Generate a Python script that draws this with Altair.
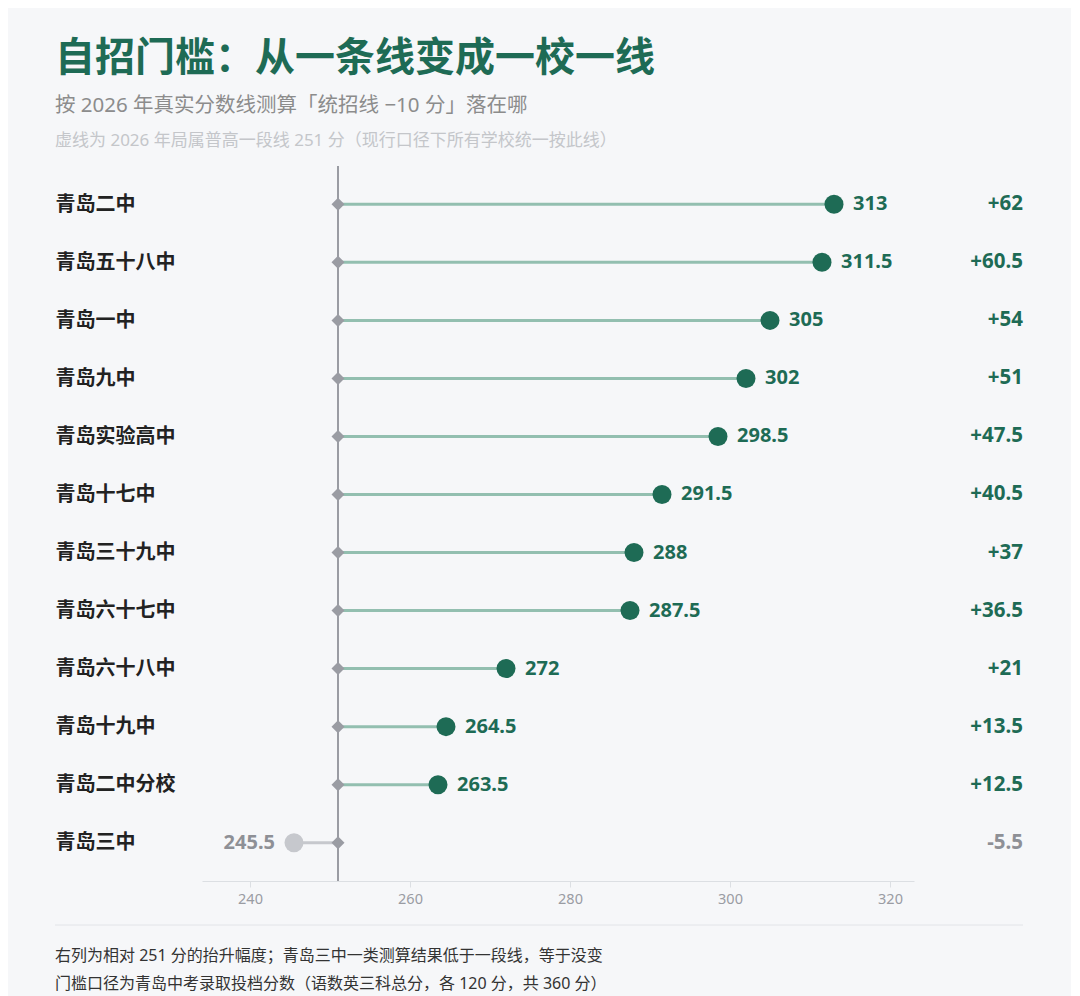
import altair as alt
import pandas as pd

schools = ["青岛二中", "青岛五十八中", "青岛一中", "青岛九中", "青岛实验高中", "青岛十七中",
           "青岛三十九中", "青岛六十七中", "青岛六十八中", "青岛十九中", "青岛二中分校", "青岛三中"]
scores = [313, 311.5, 305, 302, 298.5, 291.5, 288, 287.5, 272, 264.5, 263.5, 245.5]
deltas = ["+62", "+60.5", "+54", "+51", "+47.5", "+40.5", "+37", "+36.5", "+21", "+13.5", "+12.5", "-5.5"]
score_labels = ["313", "311.5", "305", "302", "298.5", "291.5", "288", "287.5", "272", "264.5", "263.5", "245.5"]
baseline = 251
x_ticks = [240, 260, 280, 300, 320]
footer_lines = ["右列为相对 251 分的抬升幅度；青岛三中一类测算结果低于一段线，等于没变",
                "门槛口径为青岛中考录取投档分数（语数英三科总分，各 120 分，共 360 分）"]

GREEN = "#1e6b55"
STEM = "#93bfb0"
GRAY = "#9a9ca3"
LIGHT = "#c6c8cd"
FONT = "'Noto Sans', 'Noto Sans CJK SC', sans-serif"

W, H = 712, 715

df = pd.DataFrame({
    "school": schools,
    "score": scores,
    "label": score_labels,
    "delta": deltas,
    "base": [baseline] * len(schools),
})

up = alt.datum.score > baseline

y = alt.Y("school:N", sort=schools, title=None,
          scale=alt.Scale(type="point", padding=0.66),
          axis=alt.Axis(ticks=False, domain=False, labelAlign="left", labelPadding=147,
                        labelFontSize=20, labelFontWeight="bold", labelColor="#222222",
                        labelFont=FONT))
xs = alt.Scale(domain=[234, 323], nice=False, zero=False)
x_axis = alt.Axis(values=x_ticks, grid=False, domainColor="#dcdfe3", tickColor="#dcdfe3",
                  tickSize=6, labelColor=GRAY, labelFontSize=14.5, labelPadding=5, labelFont=FONT)

base = alt.Chart(df)

# vertical line at the 2026 cut-off
line = alt.Chart(pd.DataFrame({"v": [baseline]})).mark_rule(color=GRAY, strokeWidth=2).encode(
    x=alt.X("v:Q", scale=xs, axis=x_axis, title=None)
)

stems = base.mark_rule(strokeWidth=3).encode(
    x=alt.X("base:Q", title=None),
    x2="score:Q",
    y=y,
    color=alt.condition(up, alt.value(STEM), alt.value(LIGHT)),
)

diamonds = base.mark_point(shape="diamond", filled=True, size=169, color=GRAY, opacity=1).encode(
    x=alt.X("base:Q", title=None),
    y=y,
)

dots = base.mark_circle(size=361, opacity=1).encode(
    x=alt.X("score:Q", title=None),
    y=y,
    color=alt.condition(up, alt.value(GREEN), alt.value(LIGHT)),
)

labels_up = base.transform_filter(up).mark_text(
    align="left", dx=19, fontSize=20, fontWeight="bold", font=FONT, color=GREEN
).encode(x=alt.X("score:Q", title=None), y=y, text="label:N")

labels_down = base.transform_filter(alt.datum.score <= baseline).mark_text(
    align="right", dx=-19, fontSize=20, fontWeight="bold", font=FONT, color="#8e9096"
).encode(x=alt.X("score:Q", title=None), y=y, text="label:N")

# right-hand column: lift over 251
delta_text = base.mark_text(align="right", fontSize=20.5, fontWeight="bold", font=FONT).encode(
    x=alt.value(W + 109),
    y=y,
    text="delta:N",
    color=alt.condition(up, alt.value(GREEN), alt.value("#8e9096")),
)

note = alt.Chart(pd.DataFrame({"t": ["虚线为 2026 年局属普高一段线 251 分（现行口径下所有学校统一按此线）"]})).mark_text(
    align="left", baseline="middle", fontSize=17, font=FONT, color="#c4c6ca"
).encode(x=alt.value(-147), y=alt.value(-25), text="t:N")

foot_rule = alt.Chart(pd.DataFrame({"a": [0]})).mark_rule(color="#e2e4e8", strokeWidth=1).encode(
    x=alt.value(-147), x2=alt.value(W + 109), y=alt.value(H + 44)
)

foot1 = alt.Chart(pd.DataFrame({"t": [footer_lines[0]]})).mark_text(
    align="left", baseline="middle", fontSize=16, font=FONT, color="#333333"
).encode(x=alt.value(-147), y=alt.value(H + 75), text="t:N")

foot2 = alt.Chart(pd.DataFrame({"t": [footer_lines[1]]})).mark_text(
    align="left", baseline="middle", fontSize=16, font=FONT, color="#333333"
).encode(x=alt.value(-147), y=alt.value(H + 103), text="t:N")

chart = alt.layer(
    line, stems, diamonds, dots, labels_up, labels_down, delta_text, note, foot_rule, foot1, foot2
).properties(
    width=W,
    height=H,
    background="#f6f7f9",
    padding={"left": 46, "top": 30, "right": 47, "bottom": 4},
    title=alt.TitleParams(
        text="自招门槛：从一条线变成一校一线",
        subtitle="按 2026 年真实分数线测算「统招线 −10 分」落在哪",
        anchor="start", frame="group", dx=-147, offset=16,
        font=FONT, fontSize=40, fontWeight="bold", color=GREEN,
        subtitleFont=FONT, subtitleFontSize=20.5, subtitleColor="#8c8c8c", subtitlePadding=17,
    ),
).configure_view(strokeWidth=0)

chart.save("out.html", embed_options={"renderer": "svg", "actions": False})
